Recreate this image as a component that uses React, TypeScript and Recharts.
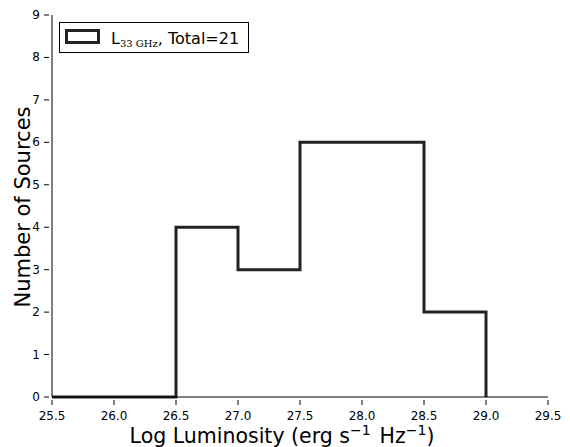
import { ComposedChart, Line, XAxis, YAxis } from "recharts";

// bin left edges (last entry closes the final bin) and counts per bin
const binEdges = [25.5, 26.0, 26.5, 27.0, 27.5, 28.0, 28.5, 29.0];
const counts = [0, 0, 4, 3, 6, 6, 2, 0];
const xTicks = [25.5, 26.0, 26.5, 27.0, 27.5, 28.0, 28.5, 29.0, 29.5];
const yTicks = [0, 1, 2, 3, 4, 5, 6, 7, 8, 9];

const data = binEdges.map((x, i) => ({ x, n: counts[i] }));

const FONT = "'DejaVu Sans', sans-serif";
const INK = "#222";

const BottomTick = (props: any) => {
  const { x, y, payload } = props;
  return (
    <g>
      <line x1={x} x2={x} y1={y} y2={y - 5} stroke="#000" />
      <text x={x} y={y + 15} textAnchor="middle" fontSize={12} fontFamily={FONT} fill="#000">
        {payload.value.toFixed(1)}
      </text>
    </g>
  );
};

const TopTick = (props: any) => {
  const { x, y } = props;
  return <line x1={x} x2={x} y1={y} y2={y + 5} stroke="#000" />;
};

const LeftTick = (props: any) => {
  const { x, y, payload } = props;
  return (
    <g>
      <line x1={x} x2={x + 5} y1={y} y2={y} stroke="#000" />
      <text x={x - 4} y={y + 4} textAnchor="end" fontSize={12} fontFamily={FONT} fill="#000">
        {payload.value}
      </text>
    </g>
  );
};

const RightTick = (props: any) => {
  const { x, y } = props;
  return <line x1={x} x2={x - 5} y1={y} y2={y} stroke="#000" />;
};

const XLabel = () => (
  <text x={282} y={443} textAnchor="middle" fontSize={20.5} fontFamily={FONT} fill="#000">
    Log Luminosity (erg s
    <tspan dy={-8} fontSize={14}>−1</tspan>
    <tspan dy={8} dx={9}>Hz</tspan>
    <tspan dy={-8} fontSize={14}>−1</tspan>
    <tspan dy={8}>)</tspan>
  </text>
);

const YLabel = () => (
  <text
    x={30}
    y={207}
    transform="rotate(-90 30 207)"
    textAnchor="middle"
    fontSize={21}
    fontFamily={FONT}
    fill="#000"
  >
    Number of Sources
  </text>
);

export default function App() {
  return (
    <div style={{ position: "absolute", left: 0, top: 0, width: 570, height: 447, background: "#fff" }}>
      <ComposedChart width={570} height={447} data={data} margin={{ top: 15, right: 22, left: 0, bottom: 0 }}>
        <XAxis
          xAxisId="b"
          dataKey="x"
          type="number"
          domain={[25.5, 29.5]}
          ticks={xTicks}
          height={50}
          tickLine={false}
          axisLine={{ stroke: "#000" }}
          tick={<BottomTick />}
          interval={0}
          allowDataOverflow
          label={<XLabel />}
        />
        <XAxis
          xAxisId="t"
          orientation="top"
          dataKey="x"
          type="number"
          domain={[25.5, 29.5]}
          ticks={xTicks}
          height={0}
          tickLine={false}
          axisLine={{ stroke: "#000" }}
          tick={<TopTick />}
          interval={0}
        />
        <YAxis
          yAxisId="l"
          type="number"
          domain={[0, 9]}
          ticks={yTicks}
          width={52}
          tickLine={false}
          axisLine={{ stroke: "#000" }}
          tick={<LeftTick />}
          interval={0}
          label={<YLabel />}
        />
        <YAxis
          yAxisId="r"
          orientation="right"
          type="number"
          domain={[0, 9]}
          ticks={yTicks}
          width={0}
          tickLine={false}
          axisLine={{ stroke: "#000" }}
          tick={<RightTick />}
          interval={0}
        />
        <Line
          xAxisId="b"
          yAxisId="l"
          type="stepAfter"
          dataKey="n"
          stroke={INK}
          strokeWidth={3}
          dot={false}
          isAnimationActive={false}
        />
      </ComposedChart>
      <svg width={570} height={447} style={{ position: "absolute", left: 0, top: 0, pointerEvents: "none" }}>
        <rect x={59.5} y={22.5} width={189} height={30} fill="#fff" stroke="#000" />
        <rect x={66.5} y={30.5} width={32} height={12} fill="none" stroke={INK} strokeWidth={3} />
        <text x={111} y={44} fontSize={16} fontFamily={FONT} fill="#000">
          L
          <tspan dy={3} fontSize={10} fontFamily="'DejaVu Serif', serif">33 GHz</tspan>
          <tspan dy={-3}>, Total=21</tspan>
        </text>
      </svg>
    </div>
  );
}
